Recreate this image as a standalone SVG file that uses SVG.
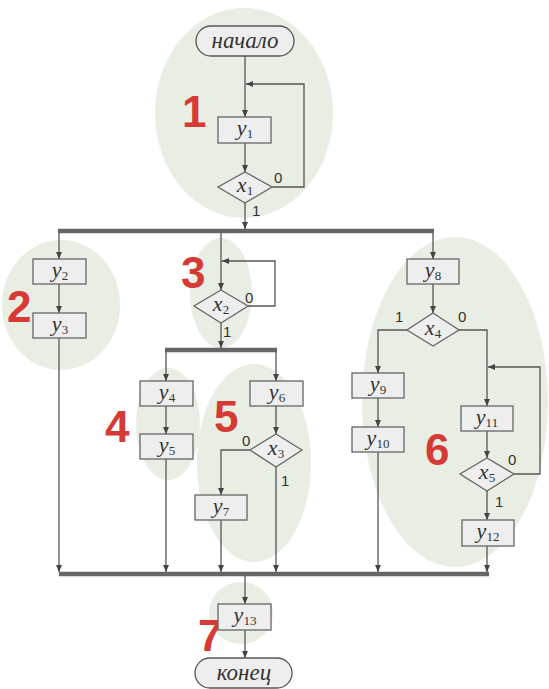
<svg xmlns="http://www.w3.org/2000/svg" width="549" height="689" viewBox="0 0 549 689">
<defs>
<marker id="ah" markerUnits="userSpaceOnUse" markerWidth="8" markerHeight="6" refX="7" refY="3" orient="auto">
<path d="M0,0 L7,3 L0,6 z" fill="#444"/>
</marker>
<style>
.zone{fill:#e9eee4}
.num{font-family:"Liberation Sans",Arial,sans-serif;font-weight:bold;font-size:44px;fill:#d63a34}
.box{fill:#eeeeee;stroke:#666;stroke-width:1.3}
.term{fill:#eeeeee;stroke:#555;stroke-width:1.3}
.v{font-family:"Liberation Serif","Times New Roman",serif;font-style:italic;font-size:22px;fill:#333;text-anchor:middle}
.sub{font-style:normal;font-size:13px}
.t{font-family:"Liberation Serif","Times New Roman",serif;font-style:italic;font-size:23px;fill:#333;text-anchor:middle}
.lb{font-family:"Liberation Sans",Arial,sans-serif;font-size:15px;fill:#333}
.ln{fill:none;stroke:#555;stroke-width:1.3}
.la{fill:none;stroke:#555;stroke-width:1.3;marker-end:url(#ah)}
.bus{stroke:#666;stroke-width:4.5}
</style>
</defs>
<rect width="549" height="689" fill="#fff"/>
<g id="zones">
<ellipse class="zone" cx="244" cy="113" rx="89" ry="105"/>
<ellipse class="zone" cx="61" cy="305" rx="59" ry="65"/>
<ellipse class="zone" cx="221" cy="293" rx="31" ry="55"/>
<ellipse class="zone" cx="168" cy="424" rx="32" ry="56"/>
<ellipse class="zone" cx="254" cy="463" rx="57" ry="99"/>
<ellipse class="zone" cx="455" cy="402" rx="93" ry="165"/>
<ellipse class="zone" cx="241" cy="613" rx="32" ry="31"/>
</g>
<g id="zone-labels">
<text class="num" x="182" y="127">1</text>
<text class="num" x="7" y="322">2</text>
<text class="num" x="181" y="288">3</text>
<text class="num" x="105" y="442">4</text>
<text class="num" x="214" y="432">5</text>
<text class="num" x="425" y="465">6</text>
<text class="num" x="198" y="651">7</text>
</g>
<g id="connectors">
<line class="bus" x1="58" y1="231" x2="434" y2="231"/>
<line class="bus" x1="165" y1="350" x2="277" y2="350"/>
<line class="bus" x1="59" y1="574" x2="489" y2="574"/>
<path class="la" d="M245,56 V117"/>
<path class="la" d="M272,187 H304 V84 H246"/>
<path class="la" d="M245,143 V172"/>
<path class="la" d="M245,203 V229"/>
<path class="la" d="M59,233 V259"/>
<path class="la" d="M59,284 V313"/>
<path class="la" d="M59,338 V572"/>
<path class="la" d="M221,233 V290"/>
<path class="la" d="M248,306 H275 V261 H222"/>
<path class="la" d="M221,323 V348"/>
<path class="la" d="M166,352 V381"/>
<path class="la" d="M166,406 V434"/>
<path class="la" d="M166,459 V572"/>
<path class="la" d="M276,352 V381"/>
<path class="la" d="M276,406 V434"/>
<path class="la" d="M250,450 H221 V495"/>
<path class="la" d="M221,520 V572"/>
<path class="la" d="M276,467 V572"/>
<path class="la" d="M433,233 V259"/>
<path class="la" d="M433,284 V313"/>
<path class="la" d="M407,330 H378 V373"/>
<path class="la" d="M378,398 V427"/>
<path class="la" d="M378,452 V572"/>
<path class="la" d="M459,330 H487 V406"/>
<path class="la" d="M514,474 H540 V367 H488"/>
<path class="la" d="M487,431 V458"/>
<path class="la" d="M487,491 V520"/>
<path class="la" d="M487,546 V572"/>
<path class="la" d="M245,576 V604"/>
<path class="la" d="M245,630 V658"/>
<text class="lb" x="274" y="183">0</text>
<text class="lb" x="252" y="216">1</text>
<text class="lb" x="245" y="303">0</text>
<text class="lb" x="223" y="337">1</text>
<text class="lb" x="242" y="446">0</text>
<text class="lb" x="281" y="486">1</text>
<text class="lb" x="395" y="322">1</text>
<text class="lb" x="458" y="322">0</text>
<text class="lb" x="508" y="465">0</text>
<text class="lb" x="495" y="507">1</text>
</g>
<g id="start"><rect class="term" x="196" y="26" width="98" height="30" rx="15"/><text class="t" x="245" y="48">начало</text></g>
<g id="n-y1"><rect class="box" x="218" y="117" width="53" height="26"/><text class="v" x="245" y="135">y<tspan class="sub" dy="3">1</tspan></text></g>
<g id="n-x1"><polygon class="box" points="245,172 272,187 245,203 218,187"/><text class="v" x="245" y="192">x<tspan class="sub" dy="3">1</tspan></text></g>
<g id="n-y2"><rect class="box" x="33" y="259" width="53" height="25"/><text class="v" x="60" y="277">y<tspan class="sub" dy="3">2</tspan></text></g>
<g id="n-y3"><rect class="box" x="33" y="313" width="53" height="25"/><text class="v" x="60" y="331">y<tspan class="sub" dy="3">3</tspan></text></g>
<g id="n-x2"><polygon class="box" points="221,290 248,306 221,323 194,306"/><text class="v" x="221" y="311">x<tspan class="sub" dy="3">2</tspan></text></g>
<g id="n-y4"><rect class="box" x="140" y="381" width="53" height="25"/><text class="v" x="167" y="399">y<tspan class="sub" dy="3">4</tspan></text></g>
<g id="n-y5"><rect class="box" x="140" y="434" width="53" height="25"/><text class="v" x="167" y="452">y<tspan class="sub" dy="3">5</tspan></text></g>
<g id="n-y6"><rect class="box" x="250" y="381" width="53" height="25"/><text class="v" x="277" y="399">y<tspan class="sub" dy="3">6</tspan></text></g>
<g id="n-x3"><polygon class="box" points="276,434 302,450 276,467 250,450"/><text class="v" x="276" y="455">x<tspan class="sub" dy="3">3</tspan></text></g>
<g id="n-y7"><rect class="box" x="195" y="495" width="52" height="25"/><text class="v" x="221" y="513">y<tspan class="sub" dy="3">7</tspan></text></g>
<g id="n-y8"><rect class="box" x="407" y="259" width="52" height="25"/><text class="v" x="433" y="277">y<tspan class="sub" dy="3">8</tspan></text></g>
<g id="n-x4"><polygon class="box" points="433,313 459,330 433,346 407,330"/><text class="v" x="433" y="335">x<tspan class="sub" dy="3">4</tspan></text></g>
<g id="n-y9"><rect class="box" x="352" y="373" width="52" height="25"/><text class="v" x="378" y="391">y<tspan class="sub" dy="3">9</tspan></text></g>
<g id="n-y10"><rect class="box" x="352" y="427" width="52" height="25"/><text class="v" x="378" y="445">y<tspan class="sub" dy="3">10</tspan></text></g>
<g id="n-y11"><rect class="box" x="461" y="406" width="52" height="25"/><text class="v" x="487" y="424">y<tspan class="sub" dy="3">11</tspan></text></g>
<g id="n-x5"><polygon class="box" points="487,458 514,474 487,491 460,474"/><text class="v" x="487" y="479">x<tspan class="sub" dy="3">5</tspan></text></g>
<g id="n-y12"><rect class="box" x="462" y="520" width="52" height="26"/><text class="v" x="488" y="538">y<tspan class="sub" dy="3">12</tspan></text></g>
<g id="n-y13"><rect class="box" x="218" y="604" width="53" height="26"/><text class="v" x="245" y="622">y<tspan class="sub" dy="3">13</tspan></text></g>
<g id="end"><rect class="term" x="195" y="658" width="97" height="30" rx="15"/><text class="t" x="244" y="680">конец</text></g>
</svg>
